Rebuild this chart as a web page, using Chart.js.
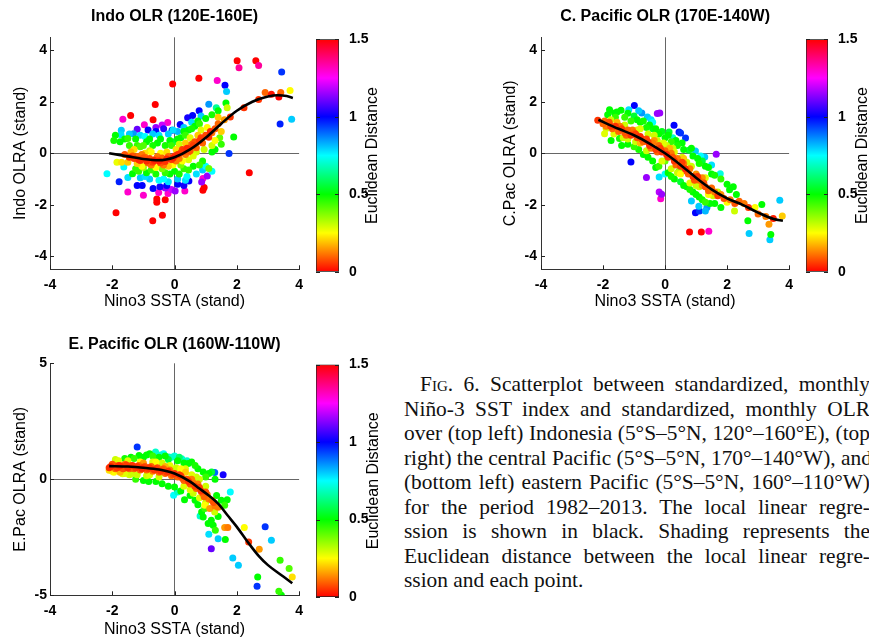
<!DOCTYPE html>
<html>
<head>
<meta charset="utf-8">
<script src="https://cdn.jsdelivr.net/npm/chart.js@4.4.1/dist/chart.umd.min.js"></script>
<style>
body { margin: 0; background: #fff; width: 869px; height: 641px; overflow: hidden; position: relative; }
canvas { position: absolute; }
#caption { position: absolute; left: 404px; top: 372px; width: 466px; font-family: "Liberation Serif", "Times New Roman", serif; font-size: 21.4px; line-height: 24.5px; color: #111; }
#caption div { white-space: nowrap; text-align: justify; text-align-last: justify; }
#caption div.first { text-indent: 16px; }
#caption div.last { text-align: left; text-align-last: left; }
.sc { font-variant: small-caps; }
</style>
</head>
<body>
<canvas id="p1" width="310" height="312" style="left:0;top:0"></canvas>
<canvas id="cb1" width="90" height="312" style="left:300px;top:0"></canvas>
<canvas id="p2" width="320" height="312" style="left:480px;top:0"></canvas>
<canvas id="cb2" width="79" height="312" style="left:790px;top:0"></canvas>
<canvas id="p3" width="310" height="321" style="left:0;top:320px"></canvas>
<canvas id="cb3" width="90" height="321" style="left:300px;top:320px"></canvas>

<div id="caption">
  <div class="first"><span class="sc">Fig</span>. 6. Scatterplot between standardized, monthly</div>
  <div>Niño-3 SST index and standardized, monthly OLR</div>
  <div>over (top left) Indonesia (5°S–5°N, 120°–160°E), (top</div>
  <div>right) the central Pacific (5°S–5°N, 170°–140°W), and</div>
  <div>(bottom left) eastern Pacific (5°S–5°N, 160°–110°W)</div>
  <div>for the period 1982–2013. The local linear regre-</div>
  <div>ssion is shown in black. Shading represents the</div>
  <div>Euclidean distance between the local linear regre-</div>
  <div class="last">ssion and each point.</div>
</div>

<script>
// axis ticks
const xTicks = [-4, -2, 0, 2, 4];
const indoTicks = [-4, -2, 0, 2, 4];
const cpacTicks = [-4, -2, 0, 2, 4];
const epacTicks = [-5, 0, 5];
const distTicks = [0, 0.5, 1, 1.5];

// local linear regression curves [nino3, olr]
const indoCurve = [[-2.1,0.0],[-1.5,-0.12],[-1.0,-0.22],[-0.5,-0.27],[0,-0.15],[0.5,0.15],[1.0,0.6],[1.5,1.15],[2.0,1.65],[2.5,2.0],[3.0,2.2],[3.3,2.25],[3.6,2.22],[3.8,2.15]];
const cpacCurve = [[-2.15,1.3],[-1.5,0.95],[-1.0,0.7],[-0.5,0.38],[0,0.0],[0.5,-0.45],[1.0,-0.95],[1.5,-1.4],[2.0,-1.75],[2.5,-2.0],[3.0,-2.3],[3.5,-2.55],[3.8,-2.62]];
const epacCurve = [[-2.1,0.57],[-1.5,0.55],[-1.0,0.5],[-0.5,0.42],[0,0.25],[0.5,-0.1],[0.8,-0.4],[1.1,-0.7],[1.4,-1.05],[1.7,-1.55],[2.0,-2.05],[2.35,-2.7],[2.7,-3.3],[3.0,-3.7],[3.4,-4.1],[3.78,-4.48]];

// monthly points [nino3, olr, euclidean distance]
const indoPts = [
  [-1.6,-0.05,0.08],[-1.45,-0.15,0.05],[-1.3,-0.2,0.06],[-1.2,-0.12,0.1],[-1.1,-0.28,0.05],[-1.0,-0.18,0.08],[-0.9,-0.3,0.04],[-0.8,-0.2,0.07],[-0.7,-0.35,0.06],[-0.6,-0.22,0.1],
  [-0.5,-0.3,0.03],[-0.4,-0.18,0.1],[-0.3,-0.32,0.05],[-0.2,-0.12,0.1],[-0.1,-0.25,0.06],[0.0,-0.1,0.05],[0.1,-0.05,0.04],[0.2,0.02,0.08],[0.3,0.08,0.05],[0.4,0.2,0.04],
  [0.5,0.1,0.08],[0.6,0.3,0.06],[0.7,0.22,0.1],[0.8,0.48,0.05],[0.9,0.4,0.1],[1.0,0.7,0.07],[1.1,0.62,0.05],[1.2,0.8,0.12],[1.3,0.95,0.08],[1.4,1.15,0.1],
  [-0.75,-0.45,0.12],[-0.35,-0.45,0.12],[0.15,-0.2,0.12],[0.55,0.35,0.1],[-1.05,-0.05,0.12],
  [-1.35,-0.1,0.08],[-1.15,-0.25,0.04],[-0.95,-0.15,0.1],[-0.85,-0.38,0.1],[-0.65,-0.28,0.03],[-0.45,-0.38,0.08],[-0.25,-0.22,0.04],[-0.05,-0.18,0.03],[0.05,-0.3,0.12],[0.25,0.15,0.06],
  [0.45,0.05,0.1],[0.65,0.45,0.08],[0.85,0.6,0.06],[1.15,0.85,0.04],[0.35,-0.05,0.12],[-0.55,-0.12,0.12],
  [-1.4,0.05,0.18],[-1.2,-0.4,0.2],[-0.95,0.0,0.22],[-0.6,-0.55,0.25],[-0.45,0.0,0.25],[-0.2,-0.5,0.2],[0.05,0.15,0.22],[0.25,-0.3,0.25],[0.35,0.4,0.2],[0.6,-0.1,0.28],
  [0.75,0.7,0.2],[0.95,0.15,0.3],[1.05,1.0,0.25],[1.3,0.5,0.25],[1.5,0.85,0.2],[1.6,1.3,0.15],[0.5,0.6,0.28],[-0.8,0.1,0.3],[-1.7,-0.35,0.22],[-1.85,-0.35,0.27],
  [-1.5,-0.35,0.2],[-1.3,0.15,0.22],[-1.05,-0.5,0.25],[-0.75,0.05,0.25],[-0.25,0.05,0.22],[-0.05,-0.45,0.25],[0.15,0.35,0.3],[0.45,-0.25,0.28],[0.7,0.05,0.3],[0.85,0.9,0.28],
  [1.2,0.3,0.3],[1.4,1.4,0.2],
  [-1.95,0.5,0.48],[-1.9,0.7,0.5],[-1.6,0.55,0.5],[-1.5,0.57,0.45],[-1.2,0.3,0.45],[-1.1,0.25,0.42],[-0.9,0.45,0.5],[-0.7,0.3,0.48],[-0.55,0.4,0.5],[-0.3,0.3,0.48],
  [-0.15,0.5,0.5],[0.0,0.45,0.55],[0.2,0.6,0.5],[0.35,0.7,0.45],[0.45,0.9,0.5],[0.65,1.05,0.5],[0.8,1.15,0.45],[1.0,1.35,0.5],[1.2,1.5,0.48],[1.4,1.65,0.5],
  [1.65,1.95,0.5],[1.9,0.63,0.5],[1.5,0.35,0.45],[1.2,0.05,0.5],[0.9,-0.3,0.48],[0.6,-0.5,0.5],[0.3,-0.6,0.45],[0.0,-0.7,0.5],[-0.3,-0.75,0.45],[-0.6,-0.8,0.48],
  [-0.9,-0.75,0.5],[-1.15,-0.7,0.45],[-1.35,-0.79,0.5],[-1.0,-0.55,0.35],[-0.4,-0.6,0.38],[0.2,-0.45,0.38],[1.1,-0.59,0.4],
  [-1.75,0.45,0.5],[-1.45,0.3,0.45],[-1.25,0.55,0.5],[-1.0,0.3,0.42],[-0.8,0.55,0.5],[-0.45,0.55,0.5],[-0.1,0.3,0.45],[0.1,0.55,0.5],[0.3,0.85,0.5],[0.55,0.95,0.48],
  [0.75,1.25,0.5],[-1.25,-0.6,0.45],[-0.75,-0.65,0.45],[-0.15,-0.8,0.5],[0.15,-0.8,0.48],[0.45,-0.65,0.45],[0.8,-0.45,0.45],[1.3,0.15,0.5],[1.45,0.6,0.4],
  [-2.17,-0.79,0.75],[-1.63,-0.53,0.75],[-1.5,-0.94,0.78],[-1.72,0.72,0.78],[-1.71,0.89,0.8],[-1.32,0.76,0.85],[-0.95,0.65,0.75],[-0.5,0.7,0.78],[-0.2,0.75,0.8],[0.1,0.85,0.82],
  [0.3,1.0,0.8],[0.55,1.2,0.78],[0.85,1.45,0.8],[1.1,1.9,0.85],[1.67,2.4,0.8],[3.76,1.32,0.8],[1.0,-0.5,0.75],[0.7,-0.8,0.78],[0.4,-0.9,0.75],[0.1,-1.0,0.8],
  [-0.2,-1.1,0.78],[-0.5,-1.05,0.75],[-0.8,-1.0,0.8],[-1.1,-0.95,0.8],
  [-1.45,0.75,0.8],[-1.1,0.7,0.78],[-0.7,0.75,0.8],[-0.05,0.9,0.78],[0.35,-1.05,0.78],[-0.35,-1.0,0.75],[-0.95,-0.9,0.78],[0.9,-0.65,0.8],[1.2,-0.7,0.75],
  [-1.78,-1.1,0.97],[-1.04,-1.25,1.0],[-0.69,-1.37,1.0],[-0.47,-1.3,1.02],[0.1,-1.2,1.0],[0.46,-1.07,1.0],[-0.08,0.89,1.0],[0.18,1.12,1.0],[0.42,1.38,1.02],[0.58,1.47,1.0],
  [0.79,1.65,1.0],[-0.6,0.85,1.0],[-0.35,0.95,1.05],[1.75,-0.01,0.95],[1.62,2.64,1.0],[3.39,1.14,0.97],[3.44,3.15,0.95],[-1.2,0.93,1.1],
  [-0.85,0.9,1.0],[-0.25,-1.25,1.0],[0.3,-1.25,1.02],[-1.2,-1.25,1.0],
  [-0.97,1.11,1.3],[-0.22,1.19,1.3],[-1.66,1.32,1.3],[-0.6,1.0,1.15],[-0.4,1.1,1.2],[1.37,2.82,1.3],[2.07,3.32,1.35],[2.7,3.41,1.35],[-1.5,-1.5,1.3],[-1.0,-1.63,1.3],
  [-0.51,-1.52,1.3],[-0.21,-1.56,1.3],[0.02,-1.46,1.15],[0.33,-1.46,1.3],[0.91,-0.98,1.3],[1.05,-0.88,1.15],[0.87,-1.11,1.15],[-0.3,-1.35,1.15],[-0.1,-1.4,1.2],
  [2.01,3.59,1.6],[2.61,3.59,1.6],[-0.06,2.69,1.6],[0.78,2.91,1.6],[-0.62,1.89,1.6],[-1.41,1.47,1.6],[-0.69,1.3,1.5],[-1.88,-2.31,1.6],[-0.7,-2.62,1.6],[-0.39,-2.4,1.6],
  [-0.57,-1.9,1.6],[-0.57,-1.77,1.5],[-0.3,-1.8,1.55],[0.95,-1.33,1.5],[0.91,-1.43,1.5],[2.4,-0.75,1.6],
  [1.79,1.41,0.05],[2.23,1.77,0.05],[2.7,2.09,0.05],[2.91,2.36,0.1],[3.11,2.29,0.02],[3.41,2.36,0.1],[3.35,2.18,0.0],[3.71,2.44,0.25],[1.69,1.77,0.3],[1.34,1.77,0.65]
];

const cpacPts = [
  [-2.17,1.28,0.05],[-2.0,1.15,0.1],[-1.9,1.05,0.12],[-1.8,1.2,0.08],[-1.7,0.95,0.1],[-1.6,1.05,0.05],[-1.5,0.85,0.1],[-1.4,0.95,0.06],[-1.3,0.8,0.08],[-1.2,0.9,0.1],
  [-1.1,0.7,0.05],[-1.0,0.8,0.1],[-0.9,0.6,0.08],[-0.8,0.65,0.04],[-0.7,0.45,0.1],[-0.6,0.55,0.07],[-0.5,0.3,0.05],[-0.4,0.4,0.12],[-0.3,0.15,0.06],[-0.2,0.3,0.1],
  [-0.1,0.05,0.05],[0.0,0.1,0.1],[0.1,-0.15,0.06],[0.2,0.0,0.12],[0.3,-0.3,0.05],[0.4,-0.2,0.12],[0.5,-0.5,0.06],[0.6,-0.4,0.12],[0.7,-0.7,0.08],[0.8,-0.6,0.12],
  [0.9,-0.9,0.05],[1.0,-0.8,0.14],[1.1,-1.05,0.1],[1.2,-0.95,0.14],[1.3,-1.3,0.08],[1.5,-1.35,0.1],[1.6,-1.5,0.12],[1.8,-1.6,0.14],[1.9,-1.75,0.08],[2.39,-1.86,0.1],
  [2.69,-2.1,0.05],[3.49,-2.53,0.03],[3.35,-2.75,0.15],[3.78,-2.43,0.2],[-0.35,0.5,0.15],[0.15,0.2,0.18],[-0.8,0.4,0.18],[0.6,-0.2,0.2],[1.2,-1.25,0.15],[-1.55,1.2,0.18],
  [-1.95,1.25,0.1],[-1.75,1.05,0.06],[-1.45,1.05,0.12],[-1.25,0.7,0.1],[-1.05,0.9,0.12],[-0.95,0.75,0.06],[-0.75,0.55,0.08],[-0.55,0.45,0.06],[-0.45,0.2,0.12],[-0.25,0.05,0.1],
  [-0.15,0.2,0.06],[0.05,-0.05,0.04],[0.25,-0.15,0.08],[0.35,-0.45,0.1],[0.55,-0.35,0.06],[0.65,-0.6,0.04],[0.75,-0.8,0.1],[0.95,-1.05,0.08],[1.05,-0.9,0.05],[1.25,-1.15,0.08],
  [1.4,-1.45,0.1],[1.7,-1.65,0.06],[2.1,-1.8,0.12],[2.25,-1.95,0.08],[2.55,-1.95,0.12],[3.0,-2.35,0.1],[3.25,-2.45,0.12],
  [-1.95,0.76,0.28],[-1.9,0.96,0.3],[-1.75,1.3,0.3],[-1.3,1.1,0.3],[-0.9,0.9,0.28],[-0.55,0.75,0.3],[-0.25,0.5,0.3],[0.05,0.3,0.3],[0.3,0.05,0.28],[0.55,-0.15,0.3],
  [0.85,-0.5,0.3],[-1.2,0.55,0.3],[-0.6,0.1,0.3],[-0.1,-0.3,0.28],[0.2,-0.6,0.3],[0.5,-0.8,0.25],[0.8,-1.15,0.28],[1.1,-1.3,0.3],[1.4,-1.6,0.25],[1.7,-1.5,0.3],
  [2.24,-2.24,0.3],[2.9,-2.1,0.25],[2.0,-1.9,0.25],
  [-1.65,0.75,0.28],[-1.35,0.6,0.3],[-0.95,0.45,0.3],[-0.8,0.95,0.28],[-0.35,0.7,0.3],[-0.05,0.4,0.28],[0.25,0.2,0.3],[0.4,-0.75,0.3],[0.7,-0.35,0.3],[1.0,-1.25,0.3],
  [1.3,-0.95,0.28],[1.55,-1.65,0.3],
  [-1.79,1.69,0.5],[-1.63,1.56,0.5],[-1.42,1.67,0.5],[-1.74,0.5,0.5],[-1.47,0.57,0.48],[-1.6,1.4,0.45],[-1.3,1.4,0.45],[-1.1,1.25,0.45],[-1.0,1.45,0.55],[-0.8,1.2,0.5],
  [-0.6,1.0,0.48],[-0.4,0.95,0.52],[-0.2,0.75,0.5],[0.0,0.6,0.5],[0.13,0.83,0.55],[0.2,0.45,0.45],[0.4,0.3,0.48],[0.6,0.15,0.5],[0.77,0.12,0.55],[0.9,-0.1,0.5],
  [1.1,-0.4,0.48],[1.3,-0.5,0.5],[1.5,-0.8,0.5],[1.8,-1.0,0.45],[2.0,-1.2,0.5],[2.08,-1.41,0.5],[-1.0,0.25,0.45],[-0.7,-0.05,0.5],[-0.4,-0.3,0.5],[-0.2,-0.5,0.45],
  [0.1,-0.75,0.5],[0.3,-1.0,0.5],[0.5,-1.1,0.55],[0.7,-1.3,0.5],[0.9,-1.5,0.5],[1.1,-1.7,0.5],[1.3,-1.9,0.45],[1.6,-1.95,0.5],[2.67,-2.62,0.5],[3.12,-1.99,0.5],
  [3.41,-3.15,0.5],[-1.4,0.3,0.5],[0.0,-0.3,0.4],[0.45,-0.7,0.4],
  [-1.85,1.5,0.5],[-1.55,1.6,0.5],[-1.2,1.55,0.5],[-0.9,1.3,0.5],[-0.7,1.25,0.48],[-0.5,1.1,0.5],[-0.3,0.95,0.5],[-0.1,0.85,0.52],[0.1,0.7,0.5],[0.35,0.5,0.5],
  [0.55,0.4,0.5],[0.85,0.2,0.5],[1.05,-0.2,0.5],[1.2,-0.3,0.55],[1.4,-0.55,0.5],[1.6,-0.85,0.48],[2.2,-1.3,0.5],[-1.2,0.35,0.5],[-0.85,0.15,0.48],[-0.55,-0.15,0.5],
  [-0.3,-0.55,0.5],[0.2,-0.9,0.48],[0.6,-1.25,0.5],[0.8,-1.4,0.48],[1.0,-1.6,0.5],[1.2,-1.8,0.48],[1.45,-1.95,0.5],[1.8,-2.1,0.5],[2.3,-1.6,0.5],
  [-1.17,1.69,0.78],[-0.75,1.56,0.85],[-0.57,1.41,0.8],[-0.4,1.2,0.75],[-0.19,-0.92,0.78],[0.98,0.09,0.8],[1.28,-0.14,0.8],[1.78,-0.79,0.72],[1.09,-2.05,0.8],[1.3,-2.24,0.82],
  [2.71,-3.11,0.8],[3.38,-3.35,0.8],[3.7,-1.82,0.8],[0.25,0.6,0.7],[1.35,-2.1,0.85],
  [-0.85,1.65,0.8],[-0.45,1.3,0.78],[0.0,-0.8,0.75],[1.15,-0.1,0.75],[1.5,-0.45,0.78],[0.85,-1.85,0.8],
  [-0.99,1.85,1.0],[0.29,1.09,1.0],[0.45,0.83,0.98],[0.66,0.59,0.95],[-1.1,-0.34,1.0],[0.98,-2.31,1.0],[1.11,-2.24,0.95],[0.5,0.79,0.95],
  [-0.25,1.54,1.15],[-0.17,1.56,1.15],[-0.6,-0.94,1.15],[-0.19,-1.5,1.18],[-0.11,-1.59,1.15],[-0.14,-1.76,1.3],[1.65,-0.04,1.15],[1.41,-3.02,1.3],
  [0.79,-3.05,1.6],[1.17,-3.05,1.6]
];

const epacPts = [
  [-2.1,0.5,0.05],[-2.0,0.65,0.08],[-1.9,0.45,0.1],[-1.8,0.6,0.05],[-1.7,0.5,0.08],[-1.6,0.65,0.12],[-1.5,0.5,0.05],[-1.4,0.58,0.08],[-1.3,0.45,0.1],[-1.2,0.55,0.05],
  [-1.1,0.4,0.1],[-1.0,0.52,0.06],[-0.9,0.4,0.1],[-0.8,0.5,0.05],[-0.7,0.35,0.12],[-0.6,0.45,0.06],[-0.5,0.3,0.1],[-0.4,0.42,0.08],[-0.3,0.25,0.1],[-0.2,0.35,0.05],
  [-0.1,0.15,0.12],[0.0,0.25,0.05],[0.1,0.1,0.1],[0.2,0.15,0.06],[0.3,-0.05,0.1],[0.4,0.0,0.08],[0.5,-0.2,0.08],[0.6,-0.15,0.12],[0.7,-0.4,0.1],[0.8,-0.35,0.06],
  [0.9,-0.6,0.1],[1.0,-0.55,0.08],[1.1,-0.85,0.12],[1.13,-1.26,0.15],[1.2,-0.9,0.1],[1.3,-1.15,0.12],[1.61,-2.08,0.15],[1.71,-2.08,0.12],[2.38,-2.7,0.05],[2.72,-3.02,0.15],
  [-1.75,0.3,0.18],[-1.0,0.7,0.15],[-0.3,0.55,0.18],[0.35,0.3,0.2],
  [-2.05,0.55,0.04],[-1.95,0.6,0.1],[-1.85,0.5,0.06],[-1.75,0.58,0.04],[-1.65,0.45,0.08],[-1.55,0.62,0.06],[-1.45,0.45,0.1],[-1.35,0.6,0.05],[-1.25,0.5,0.06],[-1.15,0.6,0.1],
  [-1.05,0.45,0.04],[-0.95,0.55,0.08],[-0.85,0.45,0.06],[-0.75,0.55,0.1],[-0.65,0.4,0.05],[-0.55,0.5,0.08],[-0.45,0.35,0.05],[-0.35,0.45,0.1],[-0.25,0.3,0.06],[-0.15,0.4,0.12],
  [-0.05,0.2,0.08],[0.15,0.2,0.05],[0.25,0.05,0.08],[0.45,-0.1,0.05],[0.55,0.0,0.12],[0.65,-0.3,0.06],[0.75,-0.2,0.12],[0.85,-0.5,0.05],[0.95,-0.75,0.1],[1.05,-0.65,0.12],
  [1.25,-1.0,0.08],[1.4,-1.2,0.12],
  [-2.1,0.39,0.22],[-1.95,0.3,0.25],[-1.67,0.24,0.28],[-1.45,0.2,0.3],[-1.2,0.2,0.3],[-0.9,0.15,0.3],[-1.9,0.85,0.3],[-1.5,0.8,0.28],[-0.6,0.75,0.25],[-0.15,0.6,0.28],
  [0.2,0.45,0.25],[0.55,0.2,0.28],[0.8,0.0,0.3],[0.97,-1.12,0.25],[1.29,-1.41,0.3],[1.0,-0.3,0.3],[0.3,-0.3,0.28],[2.24,-2.08,0.25],[3.78,-4.21,0.22],[0.6,-0.6,0.3],
  [-2.0,0.35,0.25],[-1.8,0.8,0.28],[-1.6,0.25,0.28],[-1.35,0.25,0.3],[-1.1,0.75,0.25],[-0.8,0.2,0.28],[-0.7,0.75,0.28],[-0.4,0.7,0.3],[-0.5,0.1,0.3],[0.05,0.5,0.3],
  [0.35,0.45,0.28],[0.5,-0.45,0.28],[0.8,-0.8,0.28],[0.7,0.1,0.3],[1.0,-1.0,0.3],
  [-1.25,0.0,0.45],[-0.83,-0.09,0.5],[-0.4,-0.19,0.5],[0.0,-0.33,0.5],[-1.14,1.03,0.5],[-0.9,1.05,0.5],[-0.7,1.0,0.45],[-1.3,0.9,0.45],[-0.5,0.95,0.5],[0.44,0.68,0.5],
  [0.66,0.6,0.48],[0.92,0.32,0.5],[1.19,0.32,0.55],[1.0,0.1,0.45],[1.3,0.0,0.5],[0.32,-0.88,0.5],[0.66,-0.9,0.5],[0.87,-1.41,0.5],[1.5,-0.9,0.5],[1.61,-1.12,0.45],
  [1.69,-0.88,0.5],[0.97,-1.26,0.45],[0.92,-1.62,0.5],[1.18,-1.77,0.5],[1.08,-1.91,0.5],[1.31,-2.2,0.45],[1.24,-1.98,0.5],[1.63,-2.59,0.5],[3.39,-3.49,0.45],[3.68,-3.85,0.42],
  [2.67,-4.21,0.5],[3.35,-4.83,0.45],[3.43,-5.0,0.5],[0.1,0.8,0.5],[-0.2,0.85,0.55],
  [-1.6,0.9,0.48],[-1.4,0.95,0.5],[-1.0,0.95,0.5],[-0.8,1.1,0.5],[-0.6,0.9,0.5],[-0.3,1.0,0.5],[0.15,0.95,0.6],[0.3,0.7,0.5],[0.55,0.75,0.5],[0.75,0.45,0.5],
  [1.1,0.25,0.5],[-1.0,-0.05,0.5],[-0.6,-0.1,0.5],[-0.2,-0.3,0.5],[0.2,-0.5,0.5],[0.5,-0.7,0.5],[0.75,-1.1,0.5],[1.35,-0.7,0.5],[1.4,-1.6,0.5],
  [-0.61,1.18,0.7],[-0.35,1.1,0.75],[-0.19,0.96,0.7],[0.23,0.89,0.7],[-0.03,-0.69,0.75],[1.79,-0.55,0.75],[1.1,-2.37,0.78],[1.4,-2.56,0.8],[3.11,-2.63,0.8],[1.87,-3.39,0.8],
  [2.05,-3.71,0.8],[0.82,-1.58,0.7],[0.0,1.0,0.72],[-0.45,1.05,0.7],[-0.1,0.95,0.7],[0.4,0.8,0.7],[0.1,-0.55,0.7],
  [-1.2,1.39,0.95],[1.56,0.2,1.02],[1.29,0.29,0.9],[2.91,-2.05,0.95],[2.65,-4.61,0.95],
  [1.18,-2.99,1.1]
];

const FONT = '"Liberation Sans", Arial, Helvetica, sans-serif';

// MATLAB hsv colormap, 0 -> red ... 1.5 -> red
function distColor(d) {
  const h = Math.min(d, 1.5) / 1.5 * 360;
  return 'hsl(' + h + ',100%,50%)';
}

const inwardTicks = {
  id: 'inwardTicks',
  afterDraw(chart) {
    const { ctx, chartArea: a, scales } = chart;
    ctx.save();
    ctx.strokeStyle = '#222';
    ctx.lineWidth = 1;
    if (scales.x && scales.x.options.display !== false) {
      scales.x.ticks.forEach(t => {
        const px = Math.round(scales.x.getPixelForValue(t.value)) + 0.5;
        ctx.beginPath(); ctx.moveTo(px, a.bottom); ctx.lineTo(px, a.bottom - 4); ctx.stroke();
      });
    }
    scales.y.ticks.forEach(t => {
      const py = Math.round(scales.y.getPixelForValue(t.value)) + 0.5;
      ctx.beginPath(); ctx.moveTo(a.left, py); ctx.lineTo(a.left + 4, py); ctx.stroke();
      if (chart.config.type === 'bar') {
        ctx.beginPath(); ctx.moveTo(a.right, py); ctx.lineTo(a.right - 4, py); ctx.stroke();
      }
    });
    ctx.restore();
  }
};

const cbLabel = {
  id: 'cbLabel',
  afterDraw(chart, args, opts) {
    const { ctx, chartArea: a } = chart;
    ctx.save();
    ctx.translate(opts.x, (a.top + a.bottom) / 2);
    ctx.rotate(-Math.PI / 2);
    ctx.font = '16px ' + FONT;
    ctx.fillStyle = '#000';
    ctx.textAlign = 'center';
    ctx.textBaseline = 'middle';
    ctx.fillText(opts.text, 0, 0);
    ctx.restore();
  }
};

function scatterPanel(id, p) {
  const sorted = p.pts.slice().sort((a, b) => b[2] - a[2]);
  const tickFont = { size: 14, weight: 'bold', family: FONT };
  new Chart(document.getElementById(id), {
    type: 'scatter',
    data: {
      datasets: [
        { type: 'line', data: p.curve.map(c => ({ x: c[0], y: c[1] })), borderColor: '#000', borderWidth: 2.6,
          pointRadius: 0, cubicInterpolationMode: 'monotone', fill: false },
        { data: sorted.map(c => ({ x: c[0], y: c[1] })), pointBackgroundColor: sorted.map(c => distColor(c[2])),
          pointBorderWidth: 0, pointRadius: 3.5 }
      ]
    },
    options: {
      responsive: false, animation: false, events: [],
      layout: { padding: { left: 0, right: p.padRight, top: 0, bottom: 0 } },
      plugins: {
        legend: { display: false }, tooltip: { enabled: false },
        title: { display: true, text: p.title, fullSize: false, color: '#000',
          font: { size: 16, weight: 'bold', family: FONT }, padding: { top: p.tTop, bottom: p.tBot } }
      },
      scales: {
        x: {
          type: 'linear', min: -4, max: 4, z: 1,
          afterBuildTicks: s => { s.ticks = xTicks.map(v => ({ value: v })); },
          afterFit: s => { s.height = p.xH; },
          ticks: { font: tickFont, color: '#000', padding: 7, autoSkip: false, maxRotation: 0, callback: v => String(v) },
          grid: { drawTicks: false, lineWidth: 1, color: c => (c.tick && c.tick.value === 0) ? '#666' : 'rgba(0,0,0,0)' },
          border: { display: true, color: '#333', width: 1 },
          title: { display: true, text: 'Nino3 SSTA (stand)', color: '#000', font: { size: 16, family: FONT },
            padding: { top: 0, bottom: p.xTitlePad } }
        },
        y: {
          type: 'linear', min: p.yMin, max: p.yMax, z: 1,
          afterBuildTicks: s => { s.ticks = p.yTicks.map(v => ({ value: v })); },
          afterFit: s => { s.width = p.yW; },
          ticks: { font: tickFont, color: '#000', padding: p.yTickPad, autoSkip: false, callback: v => String(v) },
          grid: { drawTicks: false, lineWidth: 1, color: c => (c.tick && c.tick.value === 0) ? '#666' : 'rgba(0,0,0,0)' },
          border: { display: true, color: '#333', width: 1 },
          title: { display: true, text: p.yLabel, color: '#000', font: { size: 16, family: FONT },
            padding: { top: p.yTitlePad, bottom: 0 } }
        }
      }
    },
    plugins: [inwardTicks]
  });
}

function colorbar(id, g) {
  new Chart(document.getElementById(id), {
    type: 'bar',
    data: {
      labels: [''],
      datasets: [{
        data: [[distTicks[0], distTicks[distTicks.length - 1]]],
        backgroundColor: c => {
          const a = c.chart.chartArea;
          if (!a) return 'red';
          const gr = c.chart.ctx.createLinearGradient(0, a.bottom, 0, a.top);
          for (let i = 0; i <= 6; i++) gr.addColorStop(i / 6, 'hsl(' + (i * 60) + ',100%,50%)');
          return gr;
        },
        borderColor: '#222', borderWidth: 1, borderSkipped: false,
        barPercentage: 1, categoryPercentage: 1
      }]
    },
    options: {
      responsive: false, animation: false, events: [],
      layout: { padding: { left: g.left, top: g.top, bottom: g.bottom, right: 0 } },
      plugins: { legend: { display: false }, tooltip: { enabled: false }, cbLabel: { text: 'Euclidean Distance', x: g.labelX } },
      scales: {
        x: { display: false },
        y: {
          position: 'right', min: 0, max: 1.5,
          afterBuildTicks: s => { s.ticks = distTicks.map(v => ({ value: v })); },
          afterFit: s => { s.width = g.axisW; },
          grid: { display: false }, border: { display: false },
          ticks: { font: { size: 14, weight: 'bold', family: FONT }, color: '#000', padding: 2, callback: v => String(v) }
        }
      }
    },
    plugins: [cbLabel, inwardTicks]
  });
}

scatterPanel('p1', { title: 'Indo OLR (120E-160E)', yLabel: 'Indo OLRA (stand)', yMin: -4.5, yMax: 4.5, yTicks: indoTicks,
  pts: indoPts, curve: indoCurve, tTop: 6.9, tBot: 11.2, yW: 50, yTitlePad: 11, yTickPad: 3, xH: 42.7, xTitlePad: 0.4, padRight: 8 });
scatterPanel('p2', { title: 'C. Pacific OLR (170E-140W)', yLabel: 'C.Pac OLRA (stand)', yMin: -4.5, yMax: 4.5, yTicks: cpacTicks,
  pts: cpacPts, curve: cpacCurve, tTop: 6.9, tBot: 11.2, yW: 61, yTitlePad: 21, yTickPad: 4, xH: 42.7, xTitlePad: 0.4, padRight: 9 });
scatterPanel('p3', { title: 'E. Pacific OLR (160W-110W)', yLabel: 'E.Pac OLRA (stand)', yMin: -5, yMax: 5, yTicks: epacTicks,
  pts: epacPts, curve: epacCurve, tTop: 15.4, tBot: 8.7, yW: 50, yTitlePad: 11, yTickPad: 3, xH: 45.7, xTitlePad: 1.4, padRight: 8 });

colorbar('cb1', { left: 16, top: 39.3, bottom: 40.3, axisW: 51, labelX: 73 });
colorbar('cb2', { left: 16, top: 39.3, bottom: 40.3, axisW: 41, labelX: 73 });
colorbar('cb3', { left: 16, top: 44.5, bottom: 44, axisW: 51, labelX: 74 });
</script>
</body>
</html>
